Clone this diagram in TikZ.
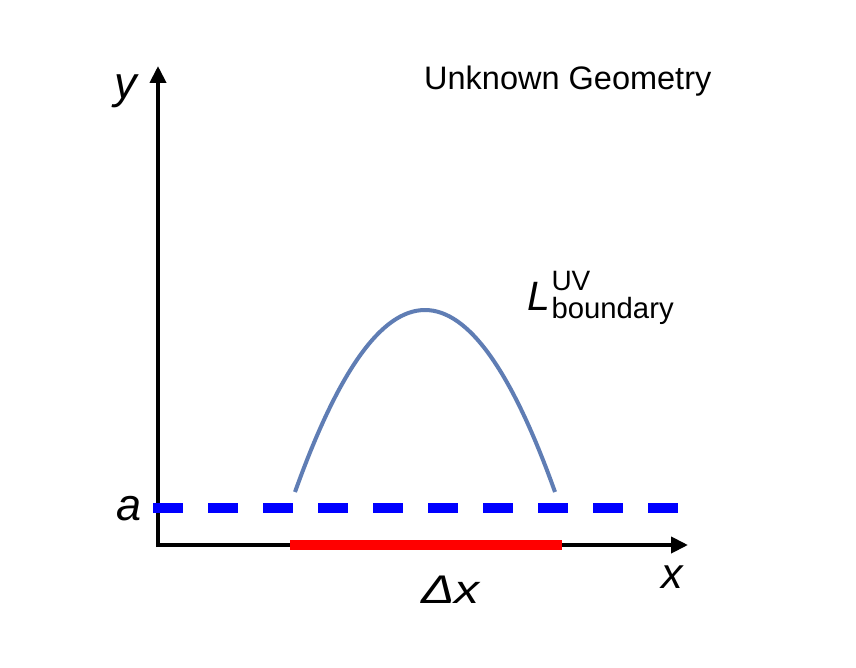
\documentclass[tikz,border=0pt]{standalone}
\usepackage{fontspec}
\setmainfont{Liberation Sans}
\usetikzlibrary{arrows.meta,calc}
\definecolor{curveblue}{RGB}{95,125,180}
\definecolor{dashblue}{RGB}{0,0,255}
\definecolor{barred}{RGB}{255,0,0}
\tikzset{
  axisline/.style={line width=4pt, line join=miter, -{Triangle[length=17pt,width=16pt]}},
  lbl/.style={inner sep=0pt, anchor=base west, text=black},
}
\begin{document}
\begin{tikzpicture}[x=1pt,y=-1pt]
\useasboundingbox[fill=white] (0,0) rectangle (856,668);
% coordinates
\coordinate (ytip) at (158,66);
\coordinate (origin) at (158,545);
\coordinate (xtip) at (688,545);
\coordinate (redL) at (290,545);
\coordinate (redR) at (562,545);
\coordinate (dashL) at (153,508);
\coordinate (dashR) at (680,508);
\coordinate (cL) at (295,492);
\coordinate (cC) at (425,128);
\coordinate (cR) at (555,492);
% axes
\draw[axisline] (origin) -- (ytip);
\draw[axisline] (origin) -- (xtip);
\draw[line width=4pt] (158,547) -- (origin);
% red interval
\draw[barred, line width=9.5pt] (redL) -- (redR);
% dashed cutoff line
\draw[dashblue, line width=10pt, dash pattern=on 30pt off 25pt] (dashL) -- (dashR);
% boundary curve
\draw[curveblue, line width=4pt] (cL) .. controls ($(cL)!2/3!(cC)$) and ($(cR)!2/3!(cC)$) .. (cR);
% labels
\node[lbl, font=\fontsize{45}{45}\selectfont\itshape] (ylab) at (114,99) {y};
\node[lbl, font=\fontsize{45}{45}\selectfont\itshape] (alab) at (116,520) {a};
\node[lbl, font=\fontsize{43}{43}\selectfont\itshape] (xlab) at (661,588) {x};
\node[lbl, font=\fontsize{40}{40}\selectfont\itshape] (dxlab) at (421,603) {\scalebox{1.25}[1]{Δx}};
\node[lbl, font=\fontsize{32.5}{32.5}\selectfont] (title) at (424,90) {Unknown Geometry};
\node[lbl] (Llab) at (527,310) {{\fontsize{41}{41}\selectfont\itshape L}\kern1.5pt\rlap{\raisebox{20pt}{\fontsize{28}{28}\selectfont UV}}\raisebox{-8pt}{\fontsize{29.3}{29.3}\selectfont boundary}};
\end{tikzpicture}
\end{document}
